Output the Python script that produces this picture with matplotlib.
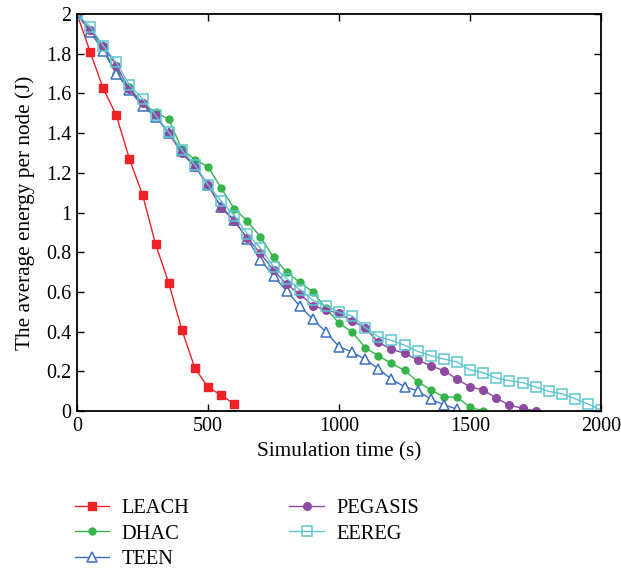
import numpy as np
import matplotlib.pyplot as plt

plt.rcParams['font.family'] = ['Liberation Serif', 'DejaVu Serif']

# simulation time (s), one sample every 50 s
t_leach = np.arange(0, 601, 50)
t_dhac = np.arange(0, 1551, 50)
t_teen = np.arange(0, 1451, 50)
t_pegasis = np.arange(0, 1751, 50)
t_eereg = np.arange(0, 2001, 50)

leach = [2.0, 1.81, 1.625, 1.49, 1.27, 1.09, 0.84, 0.645, 0.41, 0.215, 0.12, 0.08, 0.035]
dhac = [2.0, 1.92, 1.83, 1.70, 1.63, 1.55, 1.505, 1.47, 1.32, 1.266, 1.231, 1.123,
        1.02, 0.957, 0.877, 0.774, 0.70, 0.648, 0.60, 0.517, 0.442, 0.398, 0.319,
        0.277, 0.24, 0.205, 0.148, 0.106, 0.072, 0.069, 0.019, 0.0]
teen = [2.0, 1.91, 1.815, 1.70, 1.617, 1.536, 1.483, 1.40, 1.31, 1.236, 1.137, 1.029,
        0.962, 0.865, 0.761, 0.68, 0.605, 0.529, 0.462, 0.398, 0.324, 0.297, 0.26,
        0.213, 0.16, 0.122, 0.102, 0.059, 0.032, 0.009]
pegasis = [2.0, 1.92, 1.84, 1.74, 1.62, 1.55, 1.49, 1.40, 1.298, 1.23, 1.139, 1.024,
           0.959, 0.87, 0.794, 0.71, 0.638, 0.589, 0.53, 0.509, 0.492, 0.455, 0.417,
           0.346, 0.311, 0.291, 0.257, 0.228, 0.203, 0.161, 0.121, 0.106, 0.065,
           0.029, 0.014, 0.0]
eereg = [2.0, 1.936, 1.84, 1.757, 1.642, 1.573, 1.49, 1.404, 1.315, 1.24, 1.139, 1.058,
         0.984, 0.892, 0.82, 0.727, 0.667, 0.612, 0.558, 0.529, 0.497, 0.479, 0.42,
         0.374, 0.356, 0.332, 0.30, 0.279, 0.262, 0.247, 0.207, 0.193, 0.166, 0.153,
         0.143, 0.121, 0.099, 0.087, 0.062, 0.035, 0.005]

fig = plt.figure(figsize=(6.21, 5.73), dpi=100)
ax = fig.add_axes([0.124, 0.2827, 0.844, 0.6928])

ax.plot(t_leach, leach, color='#ec2227', marker='s', ms=6, lw=1.0, label='LEACH')
ax.plot(t_dhac, dhac, color='#36b34a', marker='o', ms=5, lw=1.0, label='DHAC')
ax.plot(t_teen, teen, color='#3b6fc0', marker='^', ms=6.5, mfc='white', mew=1.1,
        lw=1.0, label='TEEN')
ax.plot(t_pegasis, pegasis, color='#8c4b9f', marker='o', ms=5.5, lw=1.0, label='PEGASIS')
ax.plot(t_eereg, eereg, color='#5fc6d1', marker='s', ms=6.5, mfc='none', mew=1.1,
        lw=1.0, label='EEREG')

ax.set_xlim(0, 2000)
ax.set_ylim(0, 2)
ax.set_xticks([0, 500, 1000, 1500, 2000])
ax.set_yticks(np.arange(0, 2.01, 0.2))
ax.set_yticklabels(['0', '0.2', '0.4', '0.6', '0.8', '1', '1.2', '1.4', '1.6', '1.8', '2'])
ax.tick_params(direction='in', top=True, right=True, labelsize=14.5, length=5, width=1,
               pad=4)
for s in ax.spines.values():
    s.set_linewidth(1.3)
ax.set_xlabel('Simulation time (s)', fontsize=15.3, labelpad=5)
ax.set_ylabel('The average energy per node (J)', fontsize=15.3, labelpad=8)

fig.legend(loc='upper left', bbox_to_anchor=(0.094, 0.158), ncol=2,
           frameon=False, fontsize=14.7, handlelength=1.7, columnspacing=4.9,
           labelspacing=0.3, handletextpad=0.6, borderpad=0.3)

fig.savefig('out.png', dpi=100)
